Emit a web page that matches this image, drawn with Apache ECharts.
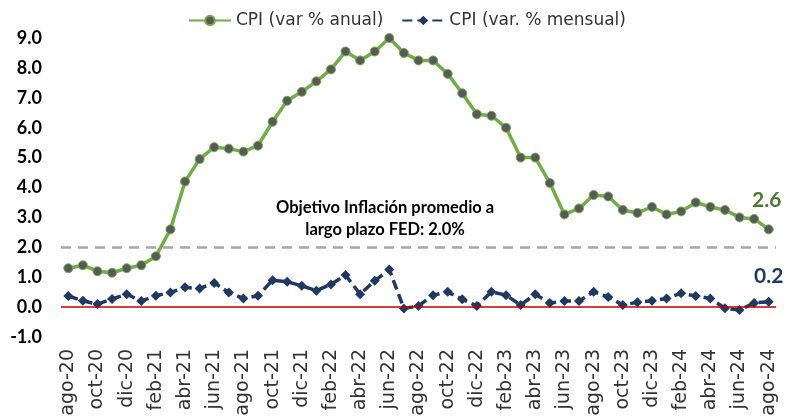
<!DOCTYPE html>
<html lang="es">
  <head>
    <meta charset="UTF-8" />
    <title>CPI</title>
    <script src="https://cdn.jsdelivr.net/npm/echarts@6/dist/echarts.min.js"></script>
  </head>
  <body style="margin: 0">
    <div id="main" style="width: 792px; height: 419px"></div>
    <script type="text/javascript">
      const months = [
        "ago-20", "sep-20", "oct-20", "nov-20", "dic-20",
        "ene-21", "feb-21", "mar-21", "abr-21", "may-21", "jun-21",
        "jul-21", "ago-21", "sep-21", "oct-21", "nov-21", "dic-21",
        "ene-22", "feb-22", "mar-22", "abr-22", "may-22", "jun-22",
        "jul-22", "ago-22", "sep-22", "oct-22", "nov-22", "dic-22",
        "ene-23", "feb-23", "mar-23", "abr-23", "may-23", "jun-23",
        "jul-23", "ago-23", "sep-23", "oct-23", "nov-23", "dic-23",
        "ene-24", "feb-24", "mar-24", "abr-24", "may-24", "jun-24",
        "jul-24", "ago-24",
      ];

      const cpiAnual = [
        1.3, 1.4, 1.2, 1.15, 1.3,
        1.4, 1.7, 2.6, 4.2, 4.95, 5.35,
        5.3, 5.2, 5.4, 6.2, 6.9, 7.2,
        7.55, 7.95, 8.55, 8.25, 8.55, 9.0,
        8.5, 8.25, 8.25, 7.8, 7.15, 6.45,
        6.4, 6.0, 5.0, 5.0, 4.15, 3.1,
        3.3, 3.75, 3.7, 3.25, 3.15, 3.35,
        3.1, 3.2, 3.5, 3.35, 3.25, 3.0,
        2.95, 2.6,
      ];

      const cpiMensual = [
        0.37, 0.21, 0.1, 0.27, 0.43,
        0.2, 0.38, 0.49, 0.66, 0.62, 0.81,
        0.49, 0.29, 0.38, 0.9, 0.85, 0.71,
        0.55, 0.76, 1.07, 0.43, 0.88, 1.26,
        -0.05, 0.04, 0.4, 0.51, 0.26, 0.04,
        0.51, 0.4, 0.07, 0.43, 0.14, 0.2,
        0.2, 0.51, 0.34, 0.07, 0.16, 0.21,
        0.29, 0.46, 0.37, 0.29, -0.04, -0.1,
        0.14, 0.18,
      ];

      const yTicks = { min: -1, max: 9, step: 1 };
      const objetivoFed = 2.0;

      const green = "#6fae45";
      const navy = "#1f3864";
      const uiFont = "DejaVu Sans";
      const boldFont = "Lato";

      function lastLabel(arr, style) {
        return arr.map((v, i) =>
          i === arr.length - 1 ? { value: v, label: style } : v
        );
      }

      const options = {
        animation: false,
        grid: { left: 61, right: 16, top: 38, bottom: 82 },
        legend: {
          left: 183,
          top: 7,
          itemGap: 18,
          itemWidth: 42,
          itemHeight: 12,
          textStyle: { fontFamily: uiFont, fontSize: 17, color: "#333" },
          data: ["CPI (var % anual)", "CPI (var. % mensual)"],
        },
        xAxis: {
          type: "category",
          data: months,
          boundaryGap: true,
          axisLine: { show: false },
          axisTick: { show: false },
          axisLabel: {
            interval: 1,
            rotate: 90,
            margin: 12,
            fontFamily: uiFont,
            fontSize: 19,
            color: "#333",
          },
        },
        yAxis: {
          type: "value",
          min: yTicks.min,
          max: yTicks.max,
          interval: yTicks.step,
          splitLine: { show: false },
          axisLine: { show: false },
          axisTick: { show: false },
          axisLabel: {
            margin: 19,
            fontFamily: boldFont,
            fontWeight: "bold",
            fontSize: 18,
            color: "#000",
            formatter: (v) => v.toFixed(1),
          },
        },
        series: [
          {
            name: "CPI (var % anual)",
            type: "line",
            showAllSymbol: true,
            data: lastLabel(cpiAnual, {
              show: true,
              position: "top",
              distance: 14,
              offset: [-2, 0],
              formatter: (p) => p.value.toFixed(1),
              fontFamily: boldFont,
              fontWeight: "bold",
              fontSize: 21,
              color: "#4a7a2c",
            }),
            symbol: "circle",
            symbolSize: 9,
            itemStyle: { color: "#595959", borderColor: green, borderWidth: 1 },
            lineStyle: { color: green, width: 3.5 },
            z: 3,
            markLine: {
              silent: true,
              symbol: "none",
              label: { show: false },
              lineStyle: { color: "#a6a6a6", type: [10, 7], width: 2.5 },
              data: [{ yAxis: objetivoFed }],
            },
          },
          {
            name: "CPI (var. % mensual)",
            type: "line",
            showAllSymbol: true,
            data: lastLabel(cpiMensual, {
              show: true,
              position: "top",
              distance: 10,
              formatter: (p) => p.value.toFixed(1),
              fontFamily: boldFont,
              fontWeight: "bold",
              fontSize: 21,
              color: navy,
            }),
            symbol: "diamond",
            symbolSize: 10,
            itemStyle: { color: navy },
            lineStyle: { color: navy, width: 3.5, type: [10, 5] },
            z: 2,
            markLine: {
              silent: true,
              symbol: "none",
              label: { show: false },
              lineStyle: { color: "#c00000", type: "solid", width: 1.5 },
              data: [{ yAxis: 0 }],
            },
          },
        ],
        graphic: [
          {
            type: "text",
            left: 276,
            top: 197,
            style: {
              text: "Objetivo Inflación promedio a\nlargo plazo FED: 2.0%",
              textAlign: "center",
              fontFamily: boldFont,
              fontWeight: "bold",
              fontSize: 16.5,
              lineHeight: 22,
              fill: "#000",
            },
          },
        ],
      };

      let myChart = echarts.init(document.getElementById("main"));
      myChart.setOption(options);
    </script>
  </body>
</html>
